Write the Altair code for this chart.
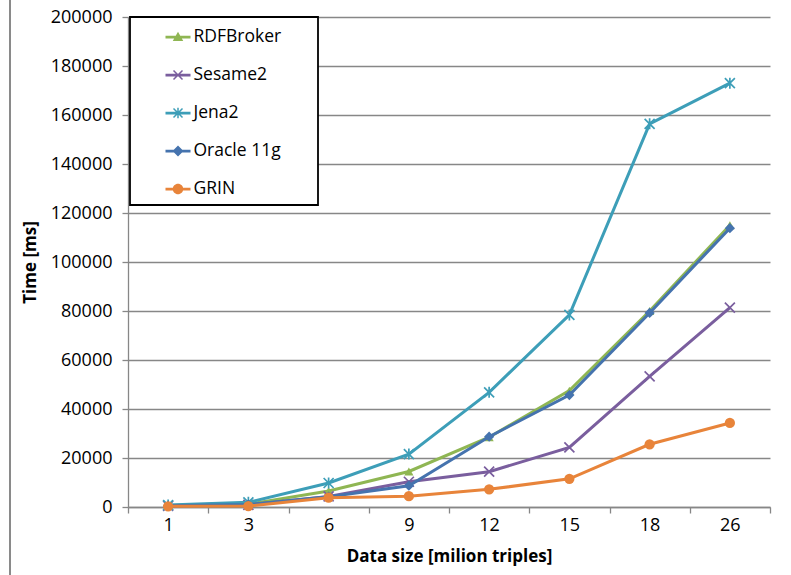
import math
import altair as alt
import pandas as pd

# ---- data ----
sizes = ["1", "3", "6", "9", "12", "15", "18", "26"]
series_names = ["RDFBroker", "Sesame2", "Jena2", "Oracle 11g", "GRIN"]
rdfbroker = [600, 1200, 6500, 14500, 28500, 47500, 80000, 115000]
sesame2 = [500, 900, 4300, 10300, 14400, 24300, 53300, 81400]
jena2 = [800, 1900, 9800, 21600, 46800, 78400, 156400, 173000]
oracle11g = [500, 1000, 4200, 8700, 28700, 45700, 79200, 113800]
grin = [300, 400, 3800, 4400, 7200, 11500, 25600, 34300]
y_ticks = list(range(0, 200001, 20000))

values = [rdfbroker, sesame2, jena2, oracle11g, grin]
colors = ["#8FB653", "#7A5E9E", "#3D9EB8", "#4573AE", "#E8843A"]

rows = []
for name, vals in zip(series_names, values):
    for s, v in zip(sizes, vals):
        rows.append({"size": s, "series": name, "time": v})
df = pd.DataFrame(rows)

FONT = "Open Sans"

# ---- marker paths for the plot ----
X_PATH = "M-1,-1L1,1M-1,1L1,-1"
STAR_PATH = "M-1,-1L1,1M-1,1L1,-1M0,-1.1L0,1.1"


# ---- legend symbol paths (line + marker, filled polygons) ----
def poly(pts):
    area = 0
    for i in range(len(pts)):
        x1, y1 = pts[i]
        x2, y2 = pts[(i + 1) % len(pts)]
        area += x1 * y2 - x2 * y1
    if area < 0:
        pts = pts[::-1]
    return "M" + "L".join(f"{x:.3f},{y:.3f}" for x, y in pts) + "Z"


def bar(p1, p2, t):
    dx, dy = p2[0] - p1[0], p2[1] - p1[1]
    L = math.hypot(dx, dy)
    nx, ny = -dy / L * t, dx / L * t
    return poly([(p1[0] + nx, p1[1] + ny), (p2[0] + nx, p2[1] + ny),
                 (p2[0] - nx, p2[1] - ny), (p1[0] - nx, p1[1] - ny)])


LINE = bar((-1, 0), (1, 0), 0.11)
a = 0.36
tt = 0.06
leg_tri = LINE + poly([(0, -0.42), (0.42, 0.32), (-0.42, 0.32)])
leg_x = LINE + bar((-a, -a), (a, a), tt) + bar((-a, a), (a, -a), tt)
leg_star = leg_x + bar((0, -0.42), (0, 0.42), tt)
leg_dia = LINE + poly([(0, -0.44), (0.44, 0), (0, 0.44), (-0.44, 0)])
r = 0.42
leg_circ = LINE + f"M{-r},0A{r},{r} 0 1,1 {r},0A{r},{r} 0 1,1 {-r},0Z"
legend_shapes = [leg_tri, leg_x, leg_star, leg_dia, leg_circ]

x_enc = alt.X(
    "size:N",
    sort=sizes,
    scale=alt.Scale(type="band", paddingInner=0, paddingOuter=0),
    axis=alt.Axis(
        title="Data size [milion triples]",
        labelAngle=0,
        tickBand="extent",
        grid=False,
        tickSize=6,
        labelPadding=3,
        titlePadding=14,
    ),
)
y_enc = alt.Y(
    "time:Q",
    scale=alt.Scale(domain=[0, 200000], nice=False),
    axis=alt.Axis(
        title="Time [ms]",
        values=y_ticks,
        format="d",
        tickSize=6,
        labelPadding=10,
        titlePadding=11,
        grid=True,
    ),
)

base = alt.Chart(df)
layers = []
marker_specs = [
    dict(shape="triangle-up", filled=True, size=85),
    dict(shape=X_PATH, filled=False, size=100, strokeWidth=1.7),
    dict(shape=STAR_PATH, filled=False, size=100, strokeWidth=1.7),
    dict(shape="diamond", filled=True, size=105),
    dict(shape="circle", filled=True, size=105),
]
for name, col, spec in zip(series_names, colors, marker_specs):
    sub = base.transform_filter(alt.datum.series == name)
    layers.append(
        sub.mark_line(color=col, strokeWidth=3).encode(x=x_enc, y=y_enc)
    )
    layers.append(
        sub.mark_point(color=col, opacity=1, **spec).encode(x=x_enc, y=y_enc)
    )

legend_layer = base.transform_filter(alt.datum.time < 0).mark_point(
    filled=True, opacity=1
).encode(
    x=x_enc,
    y=y_enc,
    color=alt.Color(
        "series:N",
        scale=alt.Scale(domain=series_names, range=colors),
        legend=alt.Legend(
            title="x",
            titleOrient="right",
            titleColor="rgba(0,0,0,0)",
            titleFontSize=12,
            titlePadding=22,
            orient="none",
            legendX=2,
            legendY=0,
            symbolSize=625,
            symbolOffset=28,
            labelOffset=3,
            rowPadding=17,
            padding=7.5,
            strokeColor="black",
            fillColor="white",
            labelFont=FONT,
            labelFontSize=17.5,
            labelColor="black",
            symbolStrokeWidth=0,
        ),
    ),
    shape=alt.Shape(
        "series:N",
        scale=alt.Scale(domain=series_names, range=legend_shapes),
    ),
)

frame = alt.Chart(df).mark_rule(color="#8a8a8a", strokeWidth=1.2).encode(
    x=alt.value(-118), y=alt.value(-17), y2=alt.value(558)
)

chart = (
    alt.layer(*layers, legend_layer, frame)
    .properties(
        width=642,
        height=490,
        autosize=alt.AutoSizeParams(type="none"),
        padding={"left": 128, "top": 17, "right": 21, "bottom": 68},
        background="white",
    )
    .configure_view(stroke=None)
    .configure_legend(strokeWidth=1.8)
    .configure_axis(
        labelFont=FONT,
        labelFontSize=18,
        labelColor="black",
        titleFont=FONT,
        titleFontSize=17,
        titleFontWeight="bold",
        titleColor="black",
        domainColor="#878787",
        domainWidth=1.3,
        tickColor="#878787",
        tickWidth=1.3,
        gridColor="#878787",
        gridWidth=1.3,
    )
)

chart.save("out.html", embed_options={"renderer": "svg", "actions": False})
